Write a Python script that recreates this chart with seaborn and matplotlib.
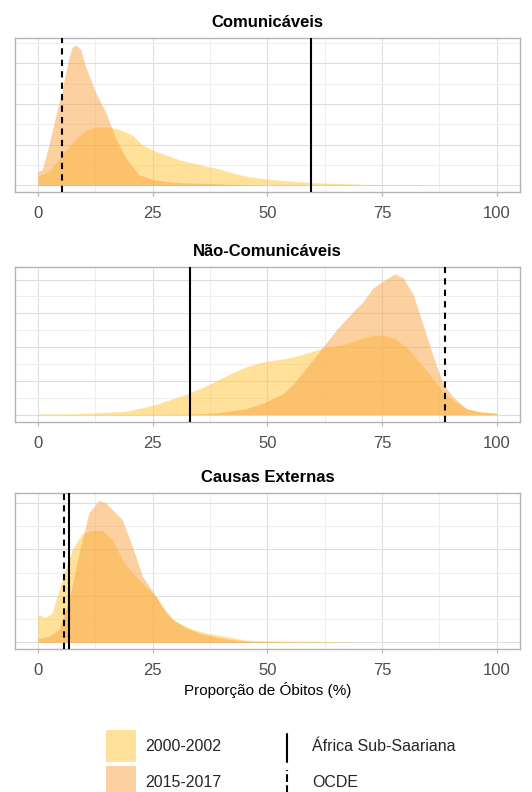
import numpy as np
import pandas as pd
import seaborn as sns
import matplotlib.pyplot as plt
from matplotlib.patches import Patch
from matplotlib.lines import Line2D
from matplotlib.legend_handler import HandlerBase

# densidade (unidades arbitrarias)
com_x_00 = [0, 2.4, 5.3, 8.2, 10.4, 12.6, 15.5, 17.7, 20.6, 22.8, 25, 27.9, 30.8, 33.7,
            36.6, 39.5, 42.5, 46.1, 49.7, 53.4, 57, 60.7, 64.3, 68, 71.6, 75, 82.5, 86]
com_y_00 = [0.45, 0.69, 1.5, 2.3, 2.7, 2.87, 2.87, 2.76, 2.47, 1.98, 1.74, 1.5, 1.26, 1.1,
            0.94, 0.82, 0.61, 0.42, 0.32, 0.24, 0.18, 0.13, 0.1, 0.08, 0.05, 0.03, 0.02, 0]
com_x_15 = [0, 0.95, 2.4, 4.2, 5.3, 6.8, 7.5, 8.4, 9.3, 10.4, 12.6, 14.8, 17, 19.2, 22,
            25, 27.9, 31.5, 37.4, 42, 50]
com_y_15 = [0.69, 0.77, 1.98, 3.7, 4.7, 6.3, 6.8, 6.9, 6.7, 5.85, 4.56, 3.6, 2.3, 1.34, 0.53,
            0.29, 0.2, 0.13, 0.1, 0.05, 0.0]

nc_x_00 = [0, 6, 12.6, 19.2, 25, 29.4, 33.2, 37.4, 42.5, 46.1, 49.7, 53.4, 55.6, 59.2, 62.1,
           66.5, 70.1, 73, 75.2, 78.1, 81.1, 84.7, 88.3, 90.5, 93.4, 96.4, 100]
nc_y_00 = [0.04, 0.04, 0.1, 0.2, 0.55, 0.94, 1.3, 1.8, 2.5, 2.9, 3.16, 3.3, 3.4, 3.7, 3.94,
           4.14, 4.47, 4.7, 4.7, 4.47, 3.78, 2.6, 1.33, 0.84, 0.35, 0.16, 0.08]
nc_x_15 = [0, 20, 33, 38.8, 45.4, 49.7, 53.4, 55.6, 59.2, 62.1, 65, 68.7, 70.9, 73, 75.2,
           77.8, 79.6, 81.8, 83.9, 86.2, 88.3, 90.5, 93.4, 96.4, 100]
nc_y_15 = [0, 0.01, 0.03, 0.1, 0.35, 0.75, 1.24, 1.8, 3.0, 4.0, 5.0, 6.1, 6.7, 7.5, 7.9,
           8.33, 8.1, 7.1, 5.35, 3.4, 1.8, 1.04, 0.35, 0.16, 0.08]

ext_x_00 = [0, 1.7, 3.1, 5.3, 7.5, 9.7, 11.9, 14, 16.2, 18.4, 20.6, 23.5, 25.7, 27.9, 30.1,
            33, 36.6, 41, 45.4, 49.7, 57, 60, 64, 68.7]
ext_y_00 = [1.19, 1.08, 1.26, 2.7, 4.0, 4.7, 4.82, 4.82, 4.42, 3.56, 2.98, 2.41, 1.98, 1.26,
            0.9, 0.62, 0.4, 0.26, 0.09, 0.07, 0.04, 0.06, 0.03, 0.01]
ext_x_15 = [0, 2.4, 4.6, 6.8, 9, 11.1, 13.3, 14.8, 16.6, 18.4, 20.6, 22.8, 25, 27.2, 29.4,
            32.3, 35.2, 38.8, 42.5, 46.8, 50, 60]
ext_y_15 = [0.16, 0.26, 0.55, 1.84, 3.85, 5.57, 6.11, 6.0, 5.64, 5.28, 4.13, 2.84, 2.2, 1.55,
            0.98, 0.62, 0.4, 0.23, 0.11, 0.04, 0.03, 0]

titulos = ["Comunicáveis", "Não-Comunicáveis", "Causas Externas"]
africa = [59.6, 33.2, 6.8]
ocde = [5.3, 88.7, 5.8]
periodos = ["2000-2002", "2015-2017"]
cores = {"2000-2002": "#FFC535", "2015-2017": "#FBA341"}

paineis = [
    [(com_x_00, com_y_00), (com_x_15, com_y_15)],
    [(nc_x_00, nc_y_00), (nc_x_15, nc_y_15)],
    [(ext_x_00, ext_y_00), (ext_x_15, ext_y_15)],
]

sns.set_theme(style="white")
plt.rcParams['font.family'] = ['Liberation Sans', 'DejaVu Sans']

fig = plt.figure(figsize=(5.32, 7.92), dpi=100)
caixas = [(0.952, 0.757), (0.663, 0.4676), (0.377, 0.180)]
L, R = 0.028, 0.977

for i, (top, bot) in enumerate(caixas):
    ax = fig.add_axes([L, bot, R - L, top - bot])
    ymax = 0
    for periodo, (xs, ys) in zip(periodos, paineis[i]):
        df = pd.DataFrame({"x": xs, "dens": ys})
        sns.lineplot(data=df, x="x", y="dens", ax=ax, lw=0, color=cores[periodo])
        ax.fill_between(df["x"], 0, df["dens"], color=cores[periodo], alpha=0.5,
                        lw=0, zorder=2)
        ymax = max(ymax, max(ys))
    ax.set_xlim(-5, 105)
    ax.set_ylim(-0.05 * ymax, 1.05 * ymax)
    ax.set_xticks([0, 25, 50, 75, 100])
    ax.set_xticks([12.5, 37.5, 62.5, 87.5], minor=True)
    yt = np.arange(0, int(1.05 * ymax) + 1)
    ax.set_yticks(yt[::2])
    ax.set_yticks(yt[1::2], minor=True)
    ax.set_yticklabels([])
    ax.grid(which="major", color="#DEDEDE", lw=0.8, zorder=0)
    ax.grid(which="minor", color="#EBEBEB", lw=0.6, zorder=0)
    ax.set_axisbelow(True)
    ax.tick_params(axis="x", which="major", length=3, width=0.8, color="#B3B3B3",
                   labelsize=12, labelcolor="#4D4D4D", pad=7, bottom=True)
    ax.tick_params(axis="x", which="minor", length=0)
    ax.tick_params(axis="y", which="both", length=0)
    for s in ax.spines.values():
        s.set_color("#B3B3B3")
        s.set_linewidth(1)
    ax.axvline(africa[i], color="black", lw=1.5, zorder=3)
    ax.axvline(ocde[i], color="black", lw=1.5, ls=(0, (3, 2.5)), zorder=3)
    ax.set_title(titulos[i], fontsize=12, fontweight="bold", pad=8, color="black")
    ax.set_ylabel("")
    if i == 2:
        ax.set_xlabel("Proporção de Óbitos (%)", fontsize=11, labelpad=3, color="black")
    else:
        ax.set_xlabel("")


class VLine(HandlerBase):
    def create_artists(self, legend, orig, xd, yd, w, h, fs, trans):
        x = -xd + w / 2
        ln = Line2D([x, x], [-yd, -yd + h - 3], color=orig.get_color(),
                    lw=orig.get_linewidth(), ls=orig.get_linestyle())
        ln.set_transform(trans)
        return [ln]


leg_kw = dict(loc="upper left", frameon=False, fontsize=11.5, handlelength=1.9,
              handleheight=2.7, labelspacing=0.25, borderpad=0, borderaxespad=0)
h1 = [Patch(facecolor=cores[p], alpha=0.5, lw=0) for p in periodos]
fig.legend(h1, periodos, bbox_to_anchor=(0.199, 0.078), handletextpad=0.55, **leg_kw)
h2 = [Line2D([], [], color="black", lw=1.5),
      Line2D([], [], color="black", lw=1.5, ls=(0, (3, 2.5)))]
fig.legend(h2, ["África Sub-Saariana", "OCDE"], bbox_to_anchor=(0.511, 0.078),
           handletextpad=0.6, handler_map={Line2D: VLine()}, **leg_kw)

fig.savefig("out.png", dpi=100)
